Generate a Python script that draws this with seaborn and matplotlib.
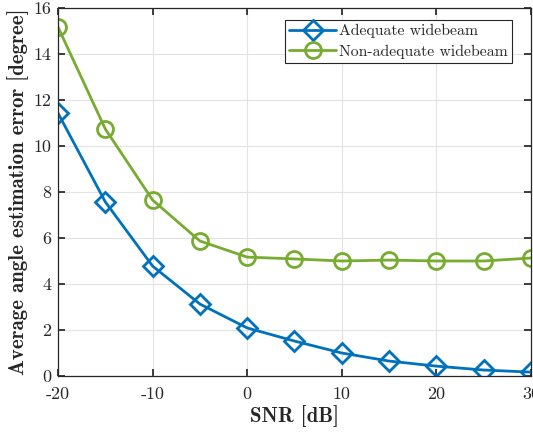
import matplotlib
matplotlib.use("Agg")
import matplotlib.pyplot as plt
import seaborn as sns
import pandas as pd

snr = [-20, -15, -10, -5, 0, 5, 10, 15, 20, 25, 30]
adequate = [11.43, 7.57, 4.78, 3.13, 2.09, 1.52, 1.0, 0.65, 0.43, 0.26, 0.17]
non_adequate = [15.17, 10.74, 7.65, 5.87, 5.17, 5.09, 5.0, 5.04, 5.0, 5.0, 5.13]
labels = ["Adequate widebeam", "Non-adequate widebeam"]
xticks = [-20, -10, 0, 10, 20, 30]
yticks = [0, 2, 4, 6, 8, 10, 12, 14, 16]
colors = ["#0072BD", "#77AC30"]

sns.set_theme(style="whitegrid")
plt.rcParams["font.family"] = ["cmr10", "DejaVu Serif"]
plt.rcParams["axes.unicode_minus"] = False
plt.rcParams["mathtext.fontset"] = "cm"

df = pd.DataFrame({
    "snr": snr * 2,
    "err": adequate + non_adequate,
    "series": [labels[0]] * len(snr) + [labels[1]] * len(snr),
})

fig = plt.figure(figsize=(5.33, 4.33), dpi=100)
ax = fig.add_axes([0.1088, 0.1316, 0.8874, 0.85])

sns.lineplot(data=df, x="snr", y="err", hue="series", style="series",
             palette=colors, markers=["D", "o"], dashes=False,
             linewidth=2.0, ax=ax, legend=False)
for line, ms, c in zip(ax.get_lines(), [10.5, 11.5], colors):
    line.set_markerfacecolor("none")
    line.set_markeredgecolor(c)
    line.set_markeredgewidth(2.0)
    line.set_markersize(ms)
    line.set_solid_joinstyle("round")

ax.set_xlim(-20, 30)
ax.set_ylim(0, 16)
ax.set_xticks(xticks)
ax.set_yticks(yticks)
ax.set_xticklabels([str(v) for v in xticks], fontsize=13)
ax.set_yticklabels([str(v) for v in yticks], fontsize=13)
ax.tick_params(direction="in", length=5, color="#262626", top=True, right=True,
               bottom=True, left=True, labelcolor="#262626")
ax.tick_params(axis="x", pad=8)
ax.tick_params(axis="y", pad=5)
ax.grid(True, color="#e3e3e3", linewidth=0.8)
ax.set_facecolor("white")
for s in ax.spines.values():
    s.set_color("#262626")
    s.set_linewidth(0.9)

ax.set_xlabel("SNR [dB]", fontsize=15, family=["cmb10", "DejaVu Serif"], color="#262626", labelpad=2)
ax.set_ylabel("Average angle estimation error [degree]", fontsize=15,
              family=["cmb10", "DejaVu Serif"], color="#262626", labelpad=3)

lines = ax.get_lines()[:2]
leg = ax.legend(lines, labels, loc="upper right", bbox_to_anchor=(0.96, 0.967),
                fontsize=11.3, frameon=True,
                fancybox=False, edgecolor="#262626", framealpha=1,
                borderpad=0.25, handlelength=3.0, handletextpad=0.2,
                labelspacing=0.4, borderaxespad=0)
leg.get_frame().set_linewidth(0.8)
for t in leg.get_texts():
    t.set_color("#262626")

fig.savefig("out.png", dpi=100, facecolor="white")
